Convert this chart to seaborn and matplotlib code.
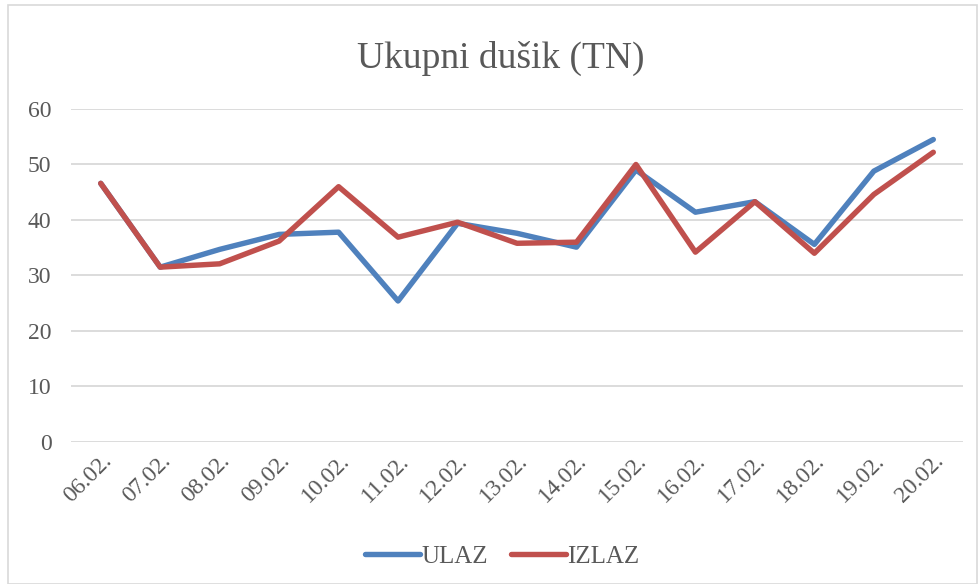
import pandas as pd
import seaborn as sns
import matplotlib.pyplot as plt
from matplotlib.patches import Rectangle

dates = ['06.02.', '07.02.', '08.02.', '09.02.', '10.02.', '11.02.', '12.02.', '13.02.',
         '14.02.', '15.02.', '16.02.', '17.02.', '18.02.', '19.02.', '20.02.']
ulaz = [46.6, 31.5, 34.7, 37.4, 37.8, 25.4, 39.4, 37.6, 35.1, 49.0, 41.4, 43.3, 35.6, 48.8, 54.5]
izlaz = [46.6, 31.5, 32.1, 36.2, 46.0, 36.9, 39.6, 35.8, 36.0, 50.0, 34.2, 43.3, 34.0, 44.6, 52.2]

df = pd.DataFrame({
    'Datum': dates * 2,
    'TN': ulaz + izlaz,
    'Serija': ['ULAZ'] * len(dates) + ['IZLAZ'] * len(dates),
})

sns.set_style("white")
plt.rcParams['font.family'] = ['Liberation Serif', 'DejaVu Serif']

fig = plt.figure(figsize=(9.79, 5.84), dpi=100)
ax = fig.add_axes([0.0725, 0.2432, 0.9112, 0.5702])

sns.lineplot(data=df, x='Datum', y='TN', hue='Serija', ax=ax,
             palette={'ULAZ': '#4F81BD', 'IZLAZ': '#C0504D'}, linewidth=3.9,
             sort=False)

ax.set_xlim(-0.5, len(dates) - 0.5)
ax.set_ylim(0, 60)
ax.set_yticks(range(0, 61, 10))
ax.yaxis.grid(True, color='#D9D9D9', linewidth=1.3)
ax.xaxis.grid(False)
for s in ax.spines.values():
    s.set_visible(False)
ax.tick_params(axis='both', length=0, colors='#595959', labelsize=17)
ax.tick_params(axis='y', pad=14)
ax.tick_params(axis='x', pad=6)
plt.setp(ax.get_xticklabels(), rotation=45, ha='right', rotation_mode='anchor')
ax.set_xlabel('')
ax.set_ylabel('')

fig.text(0.512, 0.90, 'Ukupni dušik (TN)', fontsize=27, color='#595959',
         ha='center', va='center')

handles, labels = ax.get_legend_handles_labels()
ax.legend_.remove()
fig.legend(handles, labels, loc='center', bbox_to_anchor=(0.513, 0.047), ncol=2,
           frameon=False, fontsize=18, handlelength=2.2, columnspacing=0.9,
           handletextpad=0.05, labelcolor='#595959')

fig.patches.append(Rectangle((0.008, 0.0), 0.99, 0.992, transform=fig.transFigure,
                             fill=False, edgecolor='#D9D9D9', linewidth=1.2))

fig.savefig('out.png', dpi=100)
